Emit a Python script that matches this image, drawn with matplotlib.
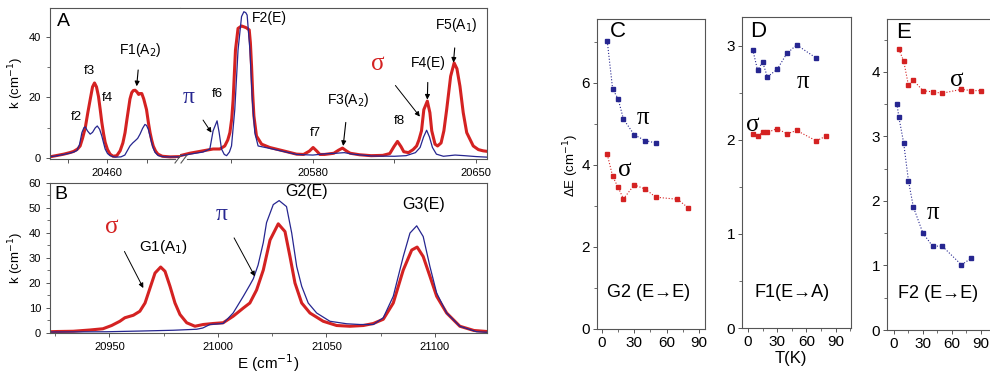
import matplotlib
matplotlib.use("Agg")
import matplotlib.pyplot as plt
from matplotlib.lines import Line2D
from matplotlib.ticker import MultipleLocator, FixedLocator

plt.rcParams['font.family'] = ['Liberation Sans', 'DejaVu Sans']
plt.rcParams['axes.edgecolor'] = '#555555'
plt.rcParams['axes.linewidth'] = 0.8
plt.rcParams['xtick.color'] = '#555555'
plt.rcParams['ytick.color'] = '#555555'
plt.rcParams['xtick.labelcolor'] = 'black'
plt.rcParams['ytick.labelcolor'] = 'black'

RED = '#d42222'
BLUE = '#262690'
GREEK = ['Liberation Serif', 'DejaVu Serif']

# ---------------- data: panel A (two segments of broken axis) ----------------
a_left_red_x = [20430, 20434, 20438, 20441, 20443, 20445, 20446.3, 20447.5, 20448.9, 20450.2,
                20451.4, 20452.6, 20453.6, 20454.6, 20455.6, 20456.5, 20457.3, 20458.2, 20459,
                20460.2, 20461.5, 20463, 20464.9, 20466.6, 20468, 20469.1, 20470, 20470.8,
                20471.6, 20472.5, 20473.3, 20474.2, 20475.2, 20476, 20476.8, 20477.6, 20478.6,
                20480, 20481, 20481.8, 20482.6, 20483.4, 20484.6, 20485.8, 20488, 20492, 20497]
a_left_red_y = [0.3, 0.8, 1.3, 1.8, 2.2, 3.0, 4.0, 6.5, 10.0, 15.0,
                19.3, 23.5, 24.8, 23.5, 20.4, 16.0, 11.8, 8.0, 5.2,
                2.8, 1.3, 0.6, 0.8, 2.4, 5.0, 8.4, 12.5, 16.0,
                19.5, 21.6, 22.3, 22.4, 21.8, 21.0, 21.3, 21.3, 19.5,
                16.0, 11.5, 8.4, 6.0, 4.0, 2.3, 1.3, 0.6, 0.4, 0.5]
a_left_blue_x = [20430, 20434, 20438, 20441, 20443, 20444.7, 20446, 20447.2, 20448.2, 20448.9,
                 20450, 20451.4, 20452.6, 20454, 20455, 20456.2, 20457.3, 20458.2, 20459,
                 20460.2, 20461.5, 20464, 20467, 20469, 20470.3, 20471.6, 20473, 20474.2,
                 20475.5, 20476.7, 20478, 20479.2, 20480, 20480.9, 20481.8, 20482.6, 20483.4,
                 20484.3, 20486, 20489, 20497]
a_left_blue_y = [0.4, 0.7, 1.2, 1.6, 2.0, 2.5, 4.5, 8.4, 10.0, 10.3,
                 9.0, 7.9, 8.5, 10.0, 10.6, 9.5, 7.3, 5.0, 3.0,
                 1.5, 0.8, 0.3, 0.4, 1.0, 2.5, 4.0, 5.0, 5.7,
                 6.5, 7.9, 9.8, 11.1, 10.8, 9.5, 7.3, 5.1, 3.3,
                 1.9, 0.8, 0.4, 0.4]

a_right_red_x = [20523, 20527.2, 20532.9, 20537.2, 20540.1, 20542.2, 20543.5, 20544.4, 20545.2,
                 20545.8, 20546.8, 20547.9, 20549.4, 20550.5, 20551.5, 20552.7, 20553.2, 20553.7,
                 20554.2, 20554.7, 20555.8, 20558, 20561.5, 20567.3, 20573, 20576, 20578.5,
                 20580.1, 20581.7, 20583, 20585, 20589, 20591, 20592.7, 20594.5, 20596, 20600,
                 20605, 20610, 20613, 20614.8, 20616.3, 20617.8, 20619, 20621, 20623, 20624.5,
                 20625.5, 20626.6, 20627.6, 20629.1, 20630.2, 20631, 20632.4, 20633.5, 20635,
                 20636.2, 20637.4, 20639.1, 20640.6, 20641.8, 20643.1, 20644.5, 20646, 20648.8,
                 20651, 20653, 20655]
a_right_red_y = [0.8, 1.6, 2.4, 3.0, 3.0, 4.0, 6.0, 8.4, 13.0,
                 19.3, 35.7, 42.8, 43.6, 43.3, 43.0, 42.3, 38.0, 30.3,
                 21.0, 13.9, 7.3, 4.6, 3.5, 2.4, 1.3, 1.2, 2.3,
                 3.5, 2.3, 1.2, 1.2, 1.6, 2.6, 3.3, 2.3, 1.6, 1.1,
                 0.8, 0.9, 1.5, 3.8, 5.5, 3.8, 2.1, 1.8, 2.8, 4.0,
                 6.0, 9.0, 16.0, 18.8, 15.0, 9.0, 4.6, 4.0, 5.0,
                 9.0, 16.0, 27.0, 31.4, 29.5, 23.7, 15.0, 8.4, 4.0,
                 2.8, 2.4, 2.2]
a_right_blue_x = [20523, 20527.2, 20532.9, 20535.8, 20537.2, 20538.9, 20539.8, 20540.8, 20542,
                  20543, 20544.2, 20545.1, 20546.5, 20547.9, 20549.4, 20550.4, 20551.2, 20551.8,
                  20553, 20554, 20555.1, 20556.5, 20561.5, 20567.3, 20573, 20580, 20585, 20590,
                  20593.5, 20597, 20605, 20615, 20620, 20624, 20626, 20627.5, 20628.8, 20630,
                  20631.3, 20633, 20636, 20641, 20645, 20650, 20655]
a_right_blue_y = [0.7, 1.3, 2.0, 3.0, 9.0, 12.3, 8.4, 3.0, 1.2,
                  0.8, 2.0, 4.0, 16.0, 35.7, 46.7, 48.3, 48.0, 47.2,
                  35.7, 19.3, 8.4, 4.0, 3.2, 2.2, 1.2, 1.0, 1.4, 1.6,
                  1.8, 1.3, 0.7, 0.6, 0.8, 1.8, 3.5, 7.0, 9.2, 7.0,
                  3.5, 1.3, 0.6, 1.0, 0.8, 0.5, 0.3]

# ---------------- data: panel B ----------------
b_red_x = [20922, 20926, 20933.3, 20941, 20947, 20951, 20954.8, 20957.1, 20961, 20964, 20966.4,
           20968.7, 20971, 20973.6, 20975.6, 20977.9, 20980.2, 20982.5, 20985.6, 20989.4,
           20993.2, 20997.8, 21002.4, 21007, 21011.7, 21014.7, 21017.8, 21020.9, 21024,
           21027.8, 21030.9, 21033.2, 21035.5, 21038.6, 21042.4, 21048.5, 21054.7, 21060.8,
           21067, 21071.6, 21076.2, 21080.8, 21085.4, 21089.3, 21091.8, 21094.6, 21097.7,
           21100.8, 21105.4, 21111.5, 21118, 21124]
b_red_y = [0.3, 0.4, 0.5, 1.0, 1.5, 2.8, 4.5, 5.9, 6.9, 8.5, 11.8,
           17.8, 23.8, 26.2, 24.5, 18.5, 11.8, 7.2, 3.9, 2.5,
           3.2, 3.6, 3.9, 6.5, 9.8, 11.8, 17.0, 25.0, 37.0,
           43.5, 40.4, 30.4, 19.8, 11.8, 7.8, 4.5, 2.8, 2.5,
           2.8, 3.6, 5.3, 11.8, 25.0, 33.0, 34.2, 30.4, 22.5,
           14.5, 7.8, 2.5, 0.8, 0.4]
b_blue_x = [20922, 20948.7, 20965, 20979.4, 20990.2, 20993, 20996.3, 21002.4, 21007, 21011.7,
            21014.7, 21016.3, 21018.5, 21020.9, 21022.4, 21025.5, 21028.2, 21031.6, 21034,
            21036.3, 21038.6, 21041.6, 21045.5, 21051.6, 21059.3, 21065.4, 21071.6, 21076.2,
            21080.8, 21085.4, 21088.5, 21091.6, 21094.6, 21097.7, 21100.8, 21105.4, 21111.5,
            21119.2, 21124]
b_blue_y = [0.2, 0.3, 0.6, 0.9, 1.3, 1.8, 3.2, 3.6, 7.8, 14.5,
            19.0, 21.5, 27.0, 36.0, 44.0, 51.2, 52.8, 50.4, 39.8,
            26.4, 18.5, 11.8, 7.8, 4.5, 3.5, 3.2, 3.2, 5.9,
            14.5, 30.4, 39.8, 42.7, 38.4, 26.4, 15.8, 7.8, 2.5,
            0.3, 0.1]

# ---------------- data: panels C, D, E (splitting vs temperature) ----------------
c_pi_T = [5, 10, 15, 20, 30, 40, 50]
c_pi_dE = [7.01, 5.84, 5.61, 5.11, 4.73, 4.59, 4.53]
c_sig_T = [5, 10, 15, 20, 30, 40, 50, 70, 80]
c_sig_dE = [4.25, 3.72, 3.45, 3.17, 3.51, 3.41, 3.21, 3.16, 2.95]

d_pi_T = [5, 10, 15, 20, 30, 40, 50, 70]
d_pi_dE = [2.96, 2.74, 2.83, 2.67, 2.75, 2.92, 3.01, 2.87]
d_sig_T = [5, 10, 15, 20, 30, 40, 50, 70, 80]
d_sig_dE = [2.065, 2.04, 2.08, 2.08, 2.12, 2.065, 2.10, 1.99, 2.04]

e_sig_T = [5, 10, 15, 20, 30, 40, 50, 70, 80, 90]
e_sig_dE = [4.35, 4.17, 3.79, 3.87, 3.71, 3.69, 3.67, 3.73, 3.71, 3.71]
e_pi_T = [3, 5, 10, 15, 20, 30, 40, 50, 70, 80]
e_pi_dE = [3.51, 3.30, 2.90, 2.31, 1.91, 1.50, 1.30, 1.30, 1.01, 1.11]

W, H = 990, 374


def box(l, t, r, b):
    # pixel box (left, top, right, bottom) -> figure fraction rect
    return [l / W, 1 - b / H, (r - l) / W, (b - t) / H]


fig = plt.figure(figsize=(9.9, 3.74), dpi=100)

# ================= panel A =================
axA1 = fig.add_axes(box(50, 7.5, 180, 159))
axA2 = fig.add_axes(box(180, 7.5, 487, 159))
axA1.plot(a_left_red_x, a_left_red_y, color=RED, lw=2.2)
axA1.plot(a_left_blue_x, a_left_blue_y, color=BLUE, lw=0.9)
axA2.plot(a_right_red_x, a_right_red_y, color=RED, lw=2.2)
axA2.plot(a_right_blue_x, a_right_blue_y, color=BLUE, lw=0.9)
axA1.set_xlim(20431, 20497)
axA2.set_xlim(20523, 20654.7)
for ax in (axA1, axA2):
    ax.set_ylim(-0.3, 49.7)
    ax.tick_params(labelsize=8, direction='out', length=3, width=0.7)
    ax.tick_params(which='minor', length=2, width=0.6)
axA1.spines['right'].set_visible(False)
axA2.spines['left'].set_visible(False)
axA2.tick_params(axis='y', which='both', left=False, labelleft=False)
axA1.yaxis.set_major_locator(MultipleLocator(20))
axA1.yaxis.set_minor_locator(MultipleLocator(10))
axA1.xaxis.set_major_locator(FixedLocator([20440, 20460, 20480]))
axA1.set_xticklabels(['', '20460', ''])
axA2.xaxis.set_major_locator(FixedLocator([20545, 20580, 20615, 20650]))
axA2.set_xticklabels(['', '20580', '', '20650'])
axA1.set_ylabel('k (cm$^{-1}$)', fontsize=9.5, labelpad=2)

# broken axis marks
fig.add_artist(Line2D([177 / W, 185 / W], [1 - 159 / H, 1 - 159 / H], color='white', lw=2))
for x0 in (175, 181):
    fig.add_artist(Line2D([x0 / W, (x0 + 6) / W], [1 - 163 / H, 1 - 155 / H], color='#555555', lw=0.8))

fig.text(63 / W, 1 - 21.7 / H, 'A', fontsize=14, ha='center', va='center')
axA1.text(20451, 28.6, 'f3', fontsize=9.5, ha='center', va='center')
axA1.text(20460.2, 19.7, 'f4', fontsize=9.5, ha='center', va='center')
axA1.text(20444.3, 13.7, 'f2', fontsize=9.5, ha='center', va='center')
axA1.annotate('F1(A$_2$)', xy=(20475, 23.7), xytext=(20476.7, 35.7), fontsize=10,
              ha='center', va='center',
              arrowprops=dict(arrowstyle='-|>', color='black', lw=0.8, mutation_scale=7,
                              shrinkA=6, shrinkB=0))
axA2.annotate('π', xy=(20536.5, 8.4), xytext=(20526.5, 19.9), fontsize=17, color=BLUE,
              family=GREEK, ha='center', va='center',
              arrowprops=dict(arrowstyle='-|>', color='black', lw=0.7, mutation_scale=7,
                              shrinkA=8, shrinkB=0))
axA2.text(20538.9, 21.2, 'f6', fontsize=9.5, ha='center', va='center')
axA2.text(20561.5, 46.1, 'F2(E)', fontsize=10, ha='center', va='center')
axA2.text(20580.9, 8.4, 'f7', fontsize=9.5, ha='center', va='center')
axA2.annotate('F3(A$_2$)', xy=(20593, 4.0), xytext=(20595.2, 19.3), fontsize=10,
              ha='center', va='center',
              arrowprops=dict(arrowstyle='-|>', color='black', lw=0.8, mutation_scale=7,
                              shrinkA=8, shrinkB=0))
axA2.text(20617.3, 12.2, 'f8', fontsize=9.5, ha='center', va='center')
axA2.annotate('σ', xy=(20625.9, 13.7), xytext=(20608, 31.2), fontsize=18, color=RED,
              family=GREEK, ha='center', va='center',
              arrowprops=dict(arrowstyle='-|>', color='black', lw=0.7, mutation_scale=7,
                              shrinkA=9, shrinkB=0))
axA2.annotate('F4(E)', xy=(20629.1, 19.3), xytext=(20629.5, 31.4), fontsize=10,
              ha='center', va='center',
              arrowprops=dict(arrowstyle='-|>', color='black', lw=0.8, mutation_scale=7,
                              shrinkA=7, shrinkB=0))
axA2.annotate('F5(A$_1$)', xy=(20640.3, 31.5), xytext=(20641.7, 43.9), fontsize=10,
              ha='center', va='center',
              arrowprops=dict(arrowstyle='-|>', color='black', lw=0.8, mutation_scale=7,
                              shrinkA=8, shrinkB=0))

# ================= panel B =================
axB = fig.add_axes(box(50, 182.6, 487, 333))
axB.plot(b_red_x, b_red_y, color=RED, lw=2.2)
axB.plot(b_blue_x, b_blue_y, color=BLUE, lw=0.9)
axB.set_xlim(20922.6, 21124)
axB.set_ylim(-0.2, 60)
axB.xaxis.set_major_locator(MultipleLocator(50))
axB.xaxis.set_minor_locator(MultipleLocator(25))
axB.yaxis.set_major_locator(MultipleLocator(10))
axB.yaxis.set_minor_locator(MultipleLocator(5))
axB.tick_params(labelsize=8, direction='out', length=3, width=0.7)
axB.tick_params(which='minor', length=2, width=0.6)
axB.set_ylabel('k (cm$^{-1}$)', fontsize=9.5, labelpad=2)
axB.set_xlabel('E (cm$^{-1}$)', fontsize=11, labelpad=0)
axB.text(0.026, 0.92, 'B', transform=axB.transAxes, fontsize=14, ha='center', va='center')
axB.annotate('σ', xy=(20965.6, 17.8), xytext=(20951, 42.4), fontsize=18, color=RED,
             family=GREEK, ha='center', va='center',
             arrowprops=dict(arrowstyle='-|>', color='black', lw=0.7, mutation_scale=7,
                             shrinkA=9, shrinkB=0))
axB.text(20974.8, 34.4, 'G1(A$_1$)', fontsize=11, ha='center', va='center')
axB.annotate('π', xy=(21017, 22.5), xytext=(21001.7, 47.1), fontsize=17, color=BLUE,
             family=GREEK, ha='center', va='center',
             arrowprops=dict(arrowstyle='-|>', color='black', lw=0.7, mutation_scale=7,
                             shrinkA=8, shrinkB=0))
axB.text(21040.9, 56.4, 'G2(E)', fontsize=11.5, ha='center', va='center')
axB.text(21094.6, 51.1, 'G3(E)', fontsize=11.5, ha='center', va='center')

# ================= panels C, D, E =================
axC = fig.add_axes(box(597, 19, 705, 329))
axD = fig.add_axes(box(742, 16.7, 851, 328))
axE = fig.add_axes(box(887, 19, 1000, 330))

mk = dict(marker='s', markersize=3, ls=':', lw=0.8)
axC.plot(c_pi_T, c_pi_dE, color=BLUE, **mk)
axC.plot(c_sig_T, c_sig_dE, color=RED, **mk)
axD.plot(d_pi_T, d_pi_dE, color=BLUE, **mk)
axD.plot(d_sig_T, d_sig_dE, color=RED, **mk)
axE.plot(e_sig_T, e_sig_dE, color=RED, **mk)
axE.plot(e_pi_T, e_pi_dE, color=BLUE, **mk)

axC.set_xlim(-4.5, 95.5)
axC.set_ylim(0, 7.55)
axC.yaxis.set_major_locator(MultipleLocator(2))
axC.yaxis.set_minor_locator(MultipleLocator(1))
axD.set_xlim(-6, 105.6)
axD.set_ylim(0, 3.31)
axD.yaxis.set_major_locator(MultipleLocator(1))
axD.yaxis.set_minor_locator(MultipleLocator(0.5))
axE.set_xlim(-7.3, 110)
axE.set_ylim(0, 4.82)
axE.yaxis.set_major_locator(MultipleLocator(1))
axE.yaxis.set_minor_locator(MultipleLocator(0.5))
for ax in (axC, axD, axE):
    ax.xaxis.set_major_locator(MultipleLocator(30))
    ax.xaxis.set_minor_locator(MultipleLocator(15))
    ax.tick_params(labelsize=11, direction='out', length=3, width=0.7, pad=2)
    ax.tick_params(which='minor', length=2, width=0.6)
axE.spines['right'].set_visible(False)

fig.text(571 / W, 1 - 165 / H, 'ΔE (cm$^{-1}$)', fontsize=9.5, rotation=90,
         ha='center', va='center')
fig.text(791 / W, 1 - 358 / H, 'T(K)', fontsize=12, ha='center', va='center')

axC.text(14.5, 7.24, 'C', fontsize=16, ha='center', va='center')
axC.text(38, 5.15, 'π', fontsize=18, family=GREEK, ha='center', va='center')
axC.text(21, 3.88, 'σ', fontsize=18, family=GREEK, ha='center', va='center')
axC.text(43, 0.9, 'G2 (E→E)', fontsize=13, ha='center', va='center')

axD.text(10.5, 3.15, 'D', fontsize=16, ha='center', va='center')
axD.text(56.6, 2.62, 'π', fontsize=18, family=GREEK, ha='center', va='center')
axD.text(5.4, 2.16, 'σ', fontsize=18, family=GREEK, ha='center', va='center')
axD.text(45.3, 0.38, 'F1(E→A)', fontsize=13, ha='center', va='center')

axE.text(10.4, 4.61, 'E', fontsize=16, ha='center', va='center')
axE.text(65, 3.87, 'σ', fontsize=18, family=GREEK, ha='center', va='center')
axE.text(40.4, 1.81, 'π', fontsize=18, family=GREEK, ha='center', va='center')
axE.text(45.7, 0.57, 'F2 (E→E)', fontsize=13, ha='center', va='center')

fig.savefig('out.png', dpi=100)
